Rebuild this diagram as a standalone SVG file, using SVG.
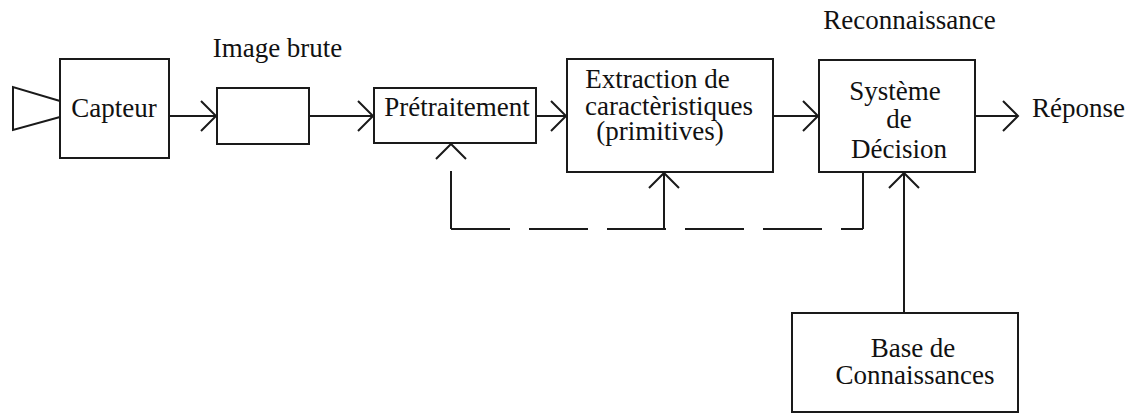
<svg xmlns="http://www.w3.org/2000/svg" width="1137" height="414" viewBox="0 0 1137 414" font-family="Liberation Serif, Times New Roman, Tinos, serif">
  <defs>
    <!-- open chevron arrowhead shared by all connectors -->
    <marker id="chev" markerUnits="userSpaceOnUse" markerWidth="34" markerHeight="34" viewBox="-17 -17 34 34" refX="0" refY="0" orient="auto" overflow="visible">
      <path d="M-15,-15 L0,0 L-15,15" fill="none" stroke="#1a1a1a" stroke-width="2"/>
    </marker>
  </defs>

  <rect width="1137" height="414" fill="#fff"/>

  <!-- connectors -->
  <g id="connectors" fill="none" stroke="#1a1a1a" stroke-width="2">
    <path d="M169,116 H216" marker-end="url(#chev)"/>
    <path d="M309,116 H373" marker-end="url(#chev)"/>
    <path d="M536,116 H566" marker-end="url(#chev)"/>
    <path d="M773,116 H818" marker-end="url(#chev)"/>
    <path d="M975,116 H1018" marker-end="url(#chev)"/>
    <path d="M904,313 V173" marker-end="url(#chev)"/>
    <!-- feedback loop -->
    <path d="M863,172 V229"/>
    <path d="M451,229 H863" stroke-dasharray="59 19"/>
    <path d="M451,171 V229"/>
    <path d="M664,229 V173" marker-end="url(#chev)"/>
    <path d="M451,158 V144" stroke="none" marker-end="url(#chev)"/>
  </g>

  <!-- sensor cone -->
  <g id="cone" fill="none" stroke="#1a1a1a" stroke-width="2">
    <path d="M60,101 L13,87 V130 L60,117"/>
  </g>

  <g id="capteur">
    <rect x="60" y="59" width="109" height="99" fill="#fff" stroke="#1a1a1a" stroke-width="2"/>
    <text x="114" y="117" font-size="27" font-family="Times New Roman" fill="#111" text-anchor="middle">Capteur</text>
  </g>

  <g id="image-brute">
    <rect x="217" y="88" width="92" height="56" fill="#fff" stroke="#1a1a1a" stroke-width="2"/>
    <text x="277.5" y="57" font-size="27" font-family="Times New Roman" fill="#111" text-anchor="middle">Image brute</text>
  </g>

  <g id="pretraitement">
    <rect x="374" y="88" width="162" height="55" fill="#fff" stroke="#1a1a1a" stroke-width="2"/>
    <text x="457" y="116" font-size="27" font-family="Times New Roman" fill="#111" text-anchor="middle">Prétraitement</text>
  </g>

  <g id="extraction">
    <rect x="567" y="59" width="206" height="113" fill="#fff" stroke="#1a1a1a" stroke-width="2"/>
    <text x="657.5" y="88" font-size="27" font-family="Times New Roman" fill="#111" text-anchor="middle">Extraction de</text>
    <text x="669" y="115" font-size="27" font-family="Times New Roman" fill="#111" text-anchor="middle">caractèristiques</text>
    <text x="660" y="140" font-size="27" font-family="Times New Roman" fill="#111" text-anchor="middle">(primitives)</text>
  </g>

  <g id="decision">
    <rect x="819" y="60" width="156" height="112" fill="#fff" stroke="#1a1a1a" stroke-width="2"/>
    <text x="909.5" y="29" font-size="27" font-family="Times New Roman" fill="#111" text-anchor="middle">Reconnaissance</text>
    <text x="895" y="100" font-size="27" font-family="Times New Roman" fill="#111" text-anchor="middle">Système</text>
    <text x="899" y="128" font-size="27" font-family="Times New Roman" fill="#111" text-anchor="middle">de</text>
    <text x="899" y="158" font-size="27" font-family="Times New Roman" fill="#111" text-anchor="middle">Décision</text>
  </g>

  <g id="reponse">
    <text x="1032" y="117" font-size="27" font-family="Times New Roman" fill="#111">Réponse</text>
  </g>

  <g id="base">
    <rect x="792" y="313" width="226" height="99" fill="#fff" stroke="#1a1a1a" stroke-width="2"/>
    <text x="913" y="357" font-size="27" font-family="Times New Roman" fill="#111" text-anchor="middle">Base de</text>
    <text x="915" y="384" font-size="27" font-family="Times New Roman" fill="#111" text-anchor="middle">Connaissances</text>
  </g>
</svg>
